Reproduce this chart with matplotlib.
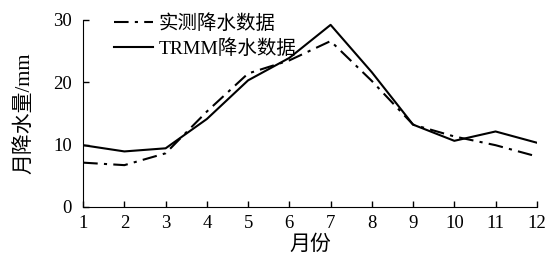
import matplotlib.pyplot as plt
import numpy as np

plt.rcParams['font.family'] = ['Liberation Serif', 'Noto Sans CJK SC']

# monthly precipitation data
months = list(range(1, 13))
observed = [7.1, 6.7, 8.6, 15.3, 21.4, 23.5, 26.6, 20.2, 13.2, 11.3, 9.9, 8.1]
trmm = [9.9, 8.9, 9.4, 14.1, 20.3, 23.9, 29.2, 21.6, 13.2, 10.6, 12.1, 10.3]

fig = plt.figure(figsize=(5.58, 2.58), dpi=100)
ax = fig.add_axes([0.149, 0.198, 0.813, 0.725])

ax.plot(months, observed, color='black', lw=1.5, linestyle=(0, (7, 3, 1.5, 3)), label='实测降水数据')
ax.plot(months, trmm, color='black', lw=1.5, label='TRMM降水数据')

ax.set_xlim(1, 12)
ax.set_ylim(0, 30)
ax.set_xticks(months)
ax.set_yticks([0, 10, 20, 30])
ax.tick_params(direction='in', labelsize=13.5, length=4, width=1)
ax.tick_params(axis='x', pad=6)
ax.tick_params(axis='y', pad=8)
ax.spines['top'].set_visible(False)
ax.spines['right'].set_visible(False)
ax.set_xlabel('月份', fontsize=15, labelpad=2)
ax.set_ylabel('月降水量/mm', fontsize=15, labelpad=14)

ax.legend(loc='upper left', bbox_to_anchor=(0.03, 1.125), frameon=False,
          fontsize=14, handlelength=2.0, handletextpad=0.3, labelspacing=0.32)

fig.savefig('out.png', dpi=100)
